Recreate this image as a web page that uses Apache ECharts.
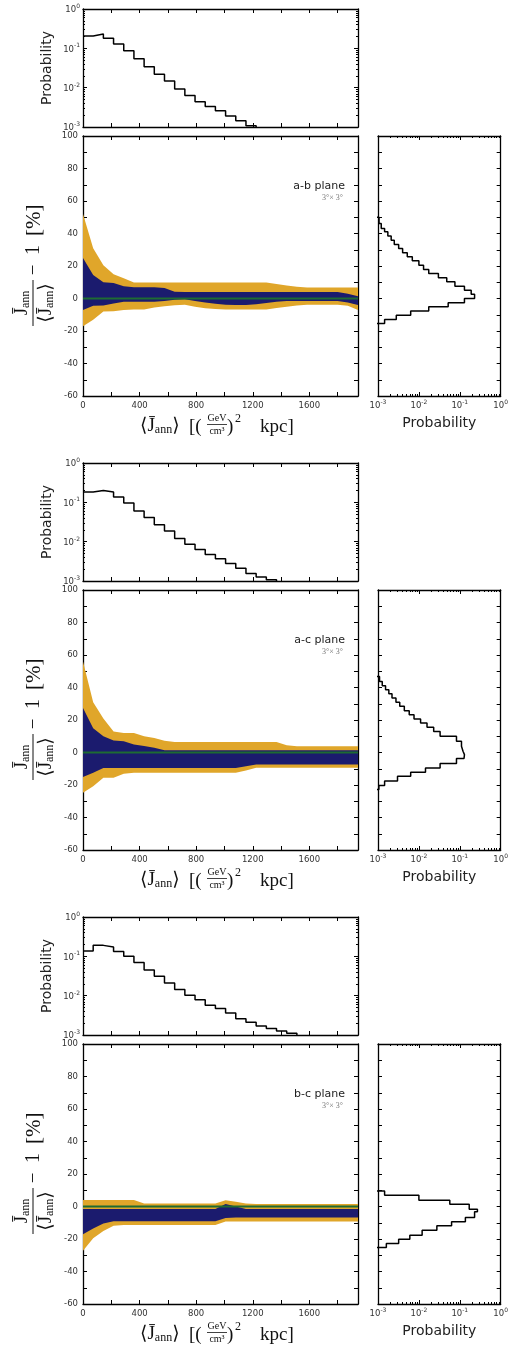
<!DOCTYPE html>
<html><head><meta charset="utf-8">
<script src="https://cdn.jsdelivr.net/npm/echarts@6.0.0/dist/echarts.min.js"></script>
<style>html,body{margin:0;padding:0;background:#fff}#chart{width:511px;height:1352px}</style>
</head><body><div id="chart"></div>
<script>
// ================= DATA =================
const xMax = 1944;                       // upper limit of <J_ann> axis
const topBinWidth = 72;                  // bin width of <J_ann> histograms
const xTickLabels = [0, 400, 800, 1200, 1600];
const yTickLabels = [-60, -40, -20, 0, 20, 40, 60, 80, 100];
const probDecades = [0.001, 0.01, 0.1, 1];
const planeNames = ['a-b plane', 'a-c plane', 'b-c plane'];
const regionText = '3°× 3°';

const bandX = [0,72,144,216,288,360,432,504,576,648,720,792,864,936,1008,1080,1152,1224,1296,1368,1440,1512,1584,1656,1728,1800,1872,1944];

// ---- a-b plane ----
const abTopProb = [0.206,0.23,0.18,0.129,0.087,0.054,0.034,0.022,0.0148,0.0093,0.0063,0.0044,0.0033,0.0026,0.0019,0.00145,0.00108,0.0009];
const abOuterHigh = [52,31,20.5,15,12.5,9.8,9.8,9.8,9.8,9.8,9.8,9.8,9.8,9.8,9.8,9.8,9.8,9.8,9.8,9,8,7.3,6.8,6.8,6.8,6.8,6.8,6.8];
const abInnerHigh = [25,14.5,10,9.6,7.6,7,7,7,6.5,4.2,4,4,4,4,4,4,4,4,4,4,4,4,4,4,4,4,3,1.4];
const abInnerLow  = [-7,-4.5,-4.3,-3,-2,-2,-2,-2,-1.5,-0.8,-0.5,-1.5,-2.5,-3.3,-3.8,-4,-4,-3.6,-2.8,-2,-1.5,-1.5,-1.5,-1.5,-1.5,-1.5,-2.5,-4];
const abOuterLow  = [-17,-13,-8,-7.8,-7,-6.8,-6.8,-5.6,-4.7,-4.2,-3.8,-5,-6,-6.5,-6.8,-6.8,-6.8,-6.8,-6.8,-5.8,-5,-4.3,-3.8,-3.8,-3.8,-3.8,-4.5,-7];
const abMedian    = [0,0,0,0,0,0,0,0,0,0,0,0,0,0,0,0,0,0,0,0,0,0,0,0,0,0,0,0];
const abRightEdges = [50,46.2,43.1,41.1,38.4,35.9,33.3,30.8,28.1,25.7,23.2,20.5,17.9,15.4,12.7,10.3,7.6,5.1,2.6,0,-2.6,-5.1,-7.7,-10.3,-12.9,-15.4];
const abRightProb  = [0.00106,0.0012,0.00145,0.00174,0.0021,0.0025,0.0032,0.004,0.0052,0.0069,0.01,0.013,0.0174,0.03,0.048,0.076,0.13,0.19,0.23,0.13,0.052,0.0174,0.0063,0.0028,0.00145];

// ---- a-c plane ----
const acTopProb = [0.183,0.2,0.183,0.137,0.096,0.06,0.041,0.027,0.0187,0.012,0.0086,0.0063,0.0047,0.0037,0.0028,0.0021,0.00154,0.00126,0.00108,0.0009];
const acOuterHigh = [56,31,21,13,12,12,10,9,7.2,6.5,6.5,6.5,6.5,6.5,6.5,6.5,6.5,6.5,6.5,6.5,4.5,3.9,3.9,3.9,3.9,3.9,3.9,3.9];
const acInnerHigh = [27.4,15,10,7.4,7,5,4,2.9,1.4,1.4,1.4,1.4,1.4,1.4,1.4,1.4,1.4,1.4,1.4,1.4,1.4,1.4,1.4,1.4,1.4,1.4,1.4,1.4];
const acInnerLow  = [-15,-12.5,-9.6,-9.6,-9.6,-9.6,-9.6,-9.6,-9.6,-9.6,-9.6,-9.6,-9.6,-9.6,-9.6,-9.6,-8.5,-7.4,-7.4,-7.4,-7.4,-7.4,-7.4,-7.4,-7.4,-7.4,-7.4,-7.4];
const acOuterLow  = [-24.8,-20.7,-15.6,-15.6,-13,-12.5,-12.5,-12.5,-12.5,-12.5,-12.5,-12.5,-12.5,-12.5,-12.5,-12.5,-11,-9.4,-9.4,-9.4,-9.4,-9.4,-9.4,-9.4,-9.4,-9.4,-9.4,-9.4];
const acMedian    = [0,0,0,0,0,0,0,0,0,0,0,0,0,0,0,0,0,0,0,0,0,0,0,0,0,0,0,0];
const acRightEdges = [46.8,43.7,41.1,38.6,36.2,33.5,31.0,28.4,25.7,23.3,20.6,18.2,15.5,13.0,10.0,6.9,3.8,0.8,-1.3,-3.7,-6.8,-9.5,-12.1,-14.6,-17.6,-20.3,-22.8];
const acRightProb  = [0.00109,0.00127,0.00153,0.00184,0.0022,0.00275,0.0034,0.0044,0.0058,0.0076,0.011,0.0158,0.023,0.033,0.083,0.11,0.12,0.13,0.127,0.083,0.033,0.0145,0.0063,0.003,0.00145,0.00105];

// ---- b-c plane ----
const bcTopProb = [0.137,0.19,0.173,0.132,0.1,0.07,0.045,0.031,0.021,0.0144,0.0103,0.0079,0.0057,0.0047,0.0036,0.0026,0.0021,0.0017,0.00147,0.00126,0.0011,0.0009];
const bcOuterHigh = [4,4,4,4,4,4,1.8,1.8,1.8,1.8,1.8,1.8,1.8,1.8,3.9,3,1.8,1.5,1.5,1.5,1.5,1.5,1.5,1.5,1.5,1.5,1.5,1.5];
const bcInnerHigh = [-1.5,-1.5,-1.5,-1.5,-1.5,-1.5,-1.5,-1.5,-1.5,-1.5,-1.5,-1.5,-1.5,-1.5,1.5,0,-1.5,-1.5,-1.5,-1.5,-1.5,-1.5,-1.5,-1.5,-1.5,-1.5,-1.5,-1.5];
const bcInnerLow  = [-17,-13.5,-10.5,-9,-9,-9,-9,-9,-9,-9,-9,-9,-9,-9,-7,-6.8,-6.8,-6.8,-6.8,-6.8,-6.8,-6.8,-6.8,-6.8,-6.8,-6.8,-6.8,-6.8];
const bcOuterLow  = [-27.2,-19.5,-15,-11.8,-11.4,-11.4,-11.4,-11.4,-11.4,-11.4,-11.4,-11.4,-11.4,-11.4,-9.2,-9.2,-9.2,-9.2,-9.2,-9.2,-9.2,-9.2,-9.2,-9.2,-9.2,-9.2,-9.2,-9.2];
const bcMedian    = [0,0,0,0,0,0,0,0,0,0,0,0,0,0,0,0,0,0,0,0,0,0,0,0,0,0,0,0];
const bcRightEdges = [9.6,6.9,3.9,1.4,-1.7,-3.3,-6.8,-9.4,-11.9,-14.6,-17.7,-20.1,-22.8,-25.2];
const bcRightProb  = [0.00145,0.01,0.057,0.17,0.27,0.23,0.137,0.063,0.0275,0.012,0.006,0.0032,0.0016];

// ================= BUILD =================
const panelsData = [
  {top: abTopProb, oh: abOuterHigh, ih: abInnerHigh, il: abInnerLow, ol: abOuterLow, med: abMedian, re: abRightEdges, rp: abRightProb},
  {top: acTopProb, oh: acOuterHigh, ih: acInnerHigh, il: acInnerLow, ol: acOuterLow, med: acMedian, re: acRightEdges, rp: acRightProb},
  {top: bcTopProb, oh: bcOuterHigh, ih: bcInnerHigh, il: bcInnerLow, ol: bcOuterLow, med: bcMedian, re: bcRightEdges, rp: bcRightProb}
];

const SERIF = "'Liberation Serif','DejaVu Serif',serif";
const SANS = "'DejaVu Sans',sans-serif";
const C_OUTER = '#E0A62A', C_INNER = '#1B1B6E', C_MED = '#1E6B32', C_TXT = '#222', C_TICK = '#333';
const histTops = [9, 463, 917], mainTops = [136, 590, 1044];
const PL = 83, PW = 275, RL = 378, RW = 125, HH = 118, MH = 260;
const TICK_FS = 8.5;

const minorProb = [];
[0.001, 0.01, 0.1].forEach(d => { for (let k = 2; k <= 9; k++) minorProb.push(+(k * d).toPrecision(3)); });

const grids = [], xAxes = [], yAxes = [], series = [], graphics = [];
const LINE = {show: true, onZero: false, lineStyle: {color: '#000', width: 1.3}};
const NOLINE = {show: false, onZero: false};
function tick(len, custom) {
  const t = {show: true, inside: true, length: len, lineStyle: {color: '#000', width: 1}};
  if (custom) t.customValues = custom;
  return t;
}
const logFmt = v => '{b|10}{s|' + Math.round(Math.log10(v)) + '}';
const LOGRICH = {
  b: {fontSize: TICK_FS, fontFamily: SANS, color: C_TICK, lineHeight: 11, verticalAlign: 'bottom'},
  s: {fontSize: 6, fontFamily: SANS, color: C_TICK, lineHeight: 6, verticalAlign: 'top'}
};
function addX(o) { xAxes.push(Object.assign({splitLine: {show: false}, axisLabel: {show: false}}, o)); return xAxes.length - 1; }
function addY(o) { yAxes.push(Object.assign({splitLine: {show: false}, axisLabel: {show: false}}, o)); return yAxes.length - 1; }

// band drawn as one polygon through the axis scales
function bandSeries(xi, yi, low, high, color, z) {
  return {type: 'custom', xAxisIndex: xi, yAxisIndex: yi, silent: true, clip: true, z: z,
    data: bandX.map((x, i) => [x, low[i], high[i]]),
    encode: {x: 0, y: [1, 2]},
    renderItem: function (params, api) {
      if (params.dataIndex !== 0) return null;
      const pts = [];
      for (let i = 0; i < bandX.length; i++) pts.push(api.coord([bandX[i], high[i]]));
      for (let i = bandX.length - 1; i >= 0; i--) pts.push(api.coord([bandX[i], low[i]]));
      return {type: 'polygon', shape: {points: pts}, style: {fill: color, stroke: null}};
    }};
}

panelsData.forEach((P, p) => {
  const ht = histTops[p], mt = mainTops[p];

  // ---------- top histogram ----------
  const g0 = grids.length;
  grids.push({left: PL, top: ht, width: PW, height: HH, show: false});
  const hx = addX({gridIndex: g0, type: 'value', min: 0, max: xMax, interval: 200, position: 'bottom', axisLine: LINE, axisTick: tick(4)});
  addX({gridIndex: g0, type: 'value', min: 0, max: xMax, interval: 200, position: 'top', axisLine: LINE, axisTick: tick(4)});
  const hy = addY({gridIndex: g0, type: 'log', logBase: 10, min: 0.001, max: 1, position: 'left', axisLine: LINE,
    axisTick: tick(4, probDecades),
    axisLabel: {show: true, customValues: probDecades, margin: 3, formatter: logFmt, rich: LOGRICH},
    name: 'Probability', nameLocation: 'middle', nameRotate: 90, nameGap: 29, nameMoveOverlap: false,
    nameTextStyle: {fontSize: 14, fontFamily: SANS, color: C_TXT}});
  addY({gridIndex: g0, type: 'log', logBase: 10, min: 0.001, max: 1, position: 'left', axisLine: NOLINE, axisTick: tick(2, minorProb)});
  addY({gridIndex: g0, type: 'log', logBase: 10, min: 0.001, max: 1, position: 'right', axisLine: LINE, axisTick: tick(4, probDecades)});
  addY({gridIndex: g0, type: 'log', logBase: 10, min: 0.001, max: 1, position: 'right', axisLine: NOLINE, axisTick: tick(2, minorProb)});
  const topData = P.top.map((v, i) => [i * topBinWidth, v]);
  topData.push([P.top.length * topBinWidth, P.top[P.top.length - 1]]);
  series.push({type: 'line', xAxisIndex: hx, yAxisIndex: hy, step: 'end', symbol: 'none', silent: true, clip: true,
    lineStyle: {color: '#000', width: 1.5}, data: topData, z: 3});

  // ---------- main band plot ----------
  const g1 = grids.length;
  grids.push({left: PL, top: mt, width: PW, height: MH, show: false});
  const mx = addX({gridIndex: g1, type: 'value', min: 0, max: xMax, interval: 200, position: 'bottom', axisLine: LINE, axisTick: tick(4),
    axisLabel: {show: true, customValues: xTickLabels, margin: 5, fontSize: TICK_FS, fontFamily: SANS, color: C_TICK, formatter: v => String(v)}});
  addX({gridIndex: g1, type: 'value', min: 0, max: xMax, interval: 200, position: 'top', axisLine: LINE, axisTick: tick(4)});
  const my = addY({gridIndex: g1, type: 'value', min: -60, max: 100, interval: 10, position: 'left', axisLine: LINE, axisTick: tick(4),
    axisLabel: {show: true, customValues: yTickLabels, margin: 5, fontSize: TICK_FS, fontFamily: SANS, color: C_TICK, formatter: v => String(v)}});
  addY({gridIndex: g1, type: 'value', min: -60, max: 100, interval: 10, position: 'right', axisLine: LINE, axisTick: tick(4)});

  series.push(bandSeries(mx, my, P.ol, P.oh, C_OUTER, 1));
  series.push(bandSeries(mx, my, P.il, P.ih, C_INNER, 2));
  series.push({type: 'line', xAxisIndex: mx, yAxisIndex: my, symbol: 'none', silent: true,
    lineStyle: {color: C_MED, width: 2}, data: bandX.map((x, i) => [x, P.med[i]]), z: 3});

  // ---------- right histogram ----------
  const g2 = grids.length;
  grids.push({left: RL, top: mt, width: RW, height: MH, show: false});
  const rx = addX({gridIndex: g2, type: 'log', logBase: 10, min: 0.001, max: 1, position: 'bottom', axisLine: LINE,
    axisTick: tick(4, probDecades),
    axisLabel: {show: true, customValues: probDecades, margin: 3, formatter: logFmt, rich: LOGRICH},
    name: 'Probability', nameLocation: 'middle', nameGap: 20, nameMoveOverlap: false,
    nameTextStyle: {fontSize: 14, fontFamily: SANS, color: C_TXT}});
  addX({gridIndex: g2, type: 'log', logBase: 10, min: 0.001, max: 1, position: 'bottom', axisLine: NOLINE, axisTick: tick(2, minorProb)});
  addX({gridIndex: g2, type: 'log', logBase: 10, min: 0.001, max: 1, position: 'top', axisLine: LINE, axisTick: tick(4, probDecades)});
  addX({gridIndex: g2, type: 'log', logBase: 10, min: 0.001, max: 1, position: 'top', axisLine: NOLINE, axisTick: tick(2, minorProb)});
  const ry = addY({gridIndex: g2, type: 'value', min: -60, max: 100, interval: 10, position: 'left', axisLine: LINE, axisTick: tick(4)});
  addY({gridIndex: g2, type: 'value', min: -60, max: 100, interval: 10, position: 'right', axisLine: LINE, axisTick: tick(4)});
  const rData = [[1e-5, P.re[0]]];
  P.rp.forEach((v, i) => rData.push([v, P.re[i]]));
  rData.push([P.rp[P.rp.length - 1], P.re[P.re.length - 1]]);
  rData.push([1e-5, P.re[P.re.length - 1]]);
  series.push({type: 'line', xAxisIndex: rx, yAxisIndex: ry, step: 'start', symbol: 'none', silent: true, clip: true,
    lineStyle: {color: '#000', width: 1.5}, data: rData, z: 3});

  // ---------- texts ----------
  graphics.push({type: 'text', x: 345, y: mt + 50, z: 10,
    style: {text: planeNames[p], font: '11px ' + SANS, fill: C_TXT, align: 'right', verticalAlign: 'middle'}});
  graphics.push({type: 'text', x: 343, y: mt + 62, z: 10,
    style: {text: regionText, font: '8px ' + SERIF, fill: '#777', align: 'right', verticalAlign: 'middle'}});

  const J = {j: {fontSize: 19, fontFamily: SERIF, fill: '#111', lineHeight: 22, verticalAlign: 'bottom'},
             s: {fontSize: 12, fontFamily: SERIF, fill: '#111', lineHeight: 10, verticalAlign: 'bottom'}};
  // y-axis label (rotated)
  graphics.push({type: 'group', x: 33, y: mt + 130, rotation: Math.PI / 2, z: 10, children: [
    {type: 'line', shape: {x1: -60, y1: 0, x2: -14, y2: 0}, style: {stroke: '#111', lineWidth: 1}},
    {type: 'text', x: -37, y: -1, style: {text: '{j|J\u0304}{s|ann}', rich: J, align: 'center', verticalAlign: 'bottom'}},
    {type: 'text', x: -37, y: 1, style: {text: '{j|\u27E8J\u0304}{s|ann}{j|\u27E9}', rich: J, align: 'center', verticalAlign: 'top'}},
    {type: 'text', x: -4, y: 1, style: {text: '\u2212', font: '19px ' + SERIF, fill: '#111', align: 'center', verticalAlign: 'middle'}},
    {type: 'text', x: 16, y: 1, style: {text: '1', font: '20px ' + SERIF, fill: '#111', align: 'center', verticalAlign: 'middle'}},
    {type: 'text', x: 30, y: 1, style: {text: '[%]', font: '21px ' + SERIF, fill: '#111', align: 'left', verticalAlign: 'middle'}}
  ]});
  // x-axis label
  graphics.push({type: 'group', x: 0, y: mt - 136, z: 10, children: [
    {type: 'text', x: 140, y: 436, style: {text: '{j|\u27E8J\u0304}{s|ann}{j|\u27E9}', rich: J, align: 'left', verticalAlign: 'bottom'}},
    {type: 'text', x: 189, y: 427, style: {text: '[(', font: '19px ' + SERIF, fill: '#111', align: 'left', verticalAlign: 'middle'}},
    {type: 'text', x: 217, y: 423, style: {text: 'GeV', font: '10px ' + SERIF, fill: '#111', align: 'center', verticalAlign: 'bottom'}},
    {type: 'line', shape: {x1: 207, y1: 424.5, x2: 227, y2: 424.5}, style: {stroke: '#111', lineWidth: 0.8}},
    {type: 'text', x: 217, y: 426, style: {text: 'cm\u00B3', font: '10px ' + SERIF, fill: '#111', align: 'center', verticalAlign: 'top'}},
    {type: 'text', x: 227, y: 427, style: {text: ')', font: '19px ' + SERIF, fill: '#111', align: 'left', verticalAlign: 'middle'}},
    {type: 'text', x: 235, y: 419, style: {text: '2', font: '12px ' + SERIF, fill: '#111', align: 'left', verticalAlign: 'middle'}},
    {type: 'text', x: 260, y: 427, style: {text: 'kpc]', font: '19px ' + SERIF, fill: '#111', align: 'left', verticalAlign: 'middle'}}
  ]});
});

const chart = echarts.init(document.getElementById('chart'), null, {renderer: 'canvas'});
chart.setOption({
  animation: false,
  backgroundColor: '#fff',
  grid: grids, xAxis: xAxes, yAxis: yAxes, series: series, graphic: graphics
});
</script></body></html>
